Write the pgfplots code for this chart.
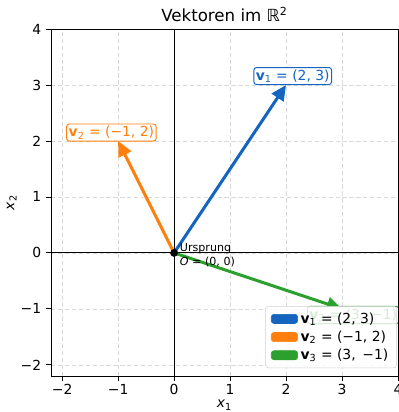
\documentclass[border=0pt]{standalone}
\usepackage{pgfplots}
\pgfplotsset{compat=1.18}
\usepackage{fontspec}
\setmainfont{DejaVu Sans}
\usetikzlibrary{arrows.meta}
\definecolor{cblue}{HTML}{1565C0}
\definecolor{corange}{HTML}{FF7F0E}
\definecolor{cgreen}{HTML}{2CA02C}
\newcommand{\vv}[1]{\textbf{v}\textsubscript{#1}}
\begin{document}
\begin{tikzpicture}
\begin{axis}[name=ax,
  scale only axis, width=250pt, height=250pt,
  xmin=-2.2, xmax=4, ymin=-2.2, ymax=4,
  xtick={-2,-1,0,1,2,3,4}, ytick={-2,-1,0,1,2,3,4},
  xticklabels={−2,−1,0,1,2,3,4}, yticklabels={−2,−1,0,1,2,3,4},
  tick align=outside, tick pos=left,
  major tick length=3.5pt,
  tick style={black, line width=0.6pt},
  tick label style={font=\fontsize{10}{12}\selectfont},
  xticklabel style={yshift=1pt},
  axis line style={line width=0.6pt},
  grid=major,
  major grid style={gray!30, line width=0.5pt, dash pattern=on 3pt off 2pt},
  title={Vektoren im ℝ\textsuperscript{2}},
  title style={font=\fontsize{12}{14}\selectfont, at={(0.5,1)}, anchor=south, yshift=-4pt, inner sep=3pt},
  xlabel={\textit{x}\textsubscript{1}},
  ylabel={\textit{x}\textsubscript{2}},
  xlabel shift=-3pt,
  ylabel shift=-4pt,
  label style={font=\fontsize{10}{12}\selectfont},
  legend style={at={(0.997,0.023)}, anchor=south east, draw=gray!35, fill=white, fill opacity=0.8, text opacity=1, draw opacity=1, rounded corners=2pt, font=\fontsize{10}{12}\selectfont, row sep=0pt, inner xsep=4pt, inner ysep=2.5pt},
  legend cell align=left,
]
% axes through origin
\addplot[black, line width=0.8pt, forget plot] coordinates {(-2.2,0) (4,0)};
\addplot[black, line width=0.8pt, forget plot] coordinates {(0,-2.2) (0,4)};
% vectors
\addplot[cblue, line width=2.2pt, -{Triangle[length=11pt,width=10pt]}, forget plot] coordinates {(0,0) (2,3)};
\addplot[corange, line width=2.2pt, -{Triangle[length=11pt,width=10pt]}, forget plot] coordinates {(0,0) (-1,2)};
\addplot[cgreen, line width=2.2pt, -{Triangle[length=11pt,width=10pt]}, forget plot] coordinates {(0,0) (3,-1)};
% origin
\addplot[only marks, mark=*, mark size=2.6pt, black, forget plot] coordinates {(0,0)};
\node[anchor=west, align=left, inner sep=0pt, font=\fontsize{8}{9.5}\selectfont] at (axis cs:0.1,-0.04) {Ursprung\\\textit{O} = (0, 0)};
% labels
\node[draw=cblue, text=cblue, fill=white, rounded corners=2pt, inner sep=1.5pt, line width=0.7pt, font=\fontsize{10}{12}\selectfont] at (axis cs:2.12,3.16) {\vv{1} = (2, 3)};
\node[draw=corange, text=corange, fill=white, rounded corners=2pt, inner sep=1.5pt, line width=0.7pt, font=\fontsize{10}{12}\selectfont] at (axis cs:-1.12,2.15) {\vv{2} = (−1, 2)};
\node[draw=cgreen, text=cgreen, fill=white, rounded corners=2pt, inner sep=1.5pt, line width=0.7pt, font=\fontsize{10}{12}\selectfont] at (axis cs:3.2,-1.11) {\vv{3} = (3, \,−1)};
% legend
\addlegendimage{legend image code/.code={\fill[cblue, fill opacity=1] (0pt,-3.3pt) rectangle (19pt,3.3pt);}}
\addlegendentry{\vv{1} = (2, 3)}
\addlegendimage{legend image code/.code={\fill[corange, fill opacity=1] (0pt,-3.3pt) rectangle (19pt,3.3pt);}}
\addlegendentry{\vv{2} = (−1, 2)}
\addlegendimage{legend image code/.code={\fill[cgreen, fill opacity=1] (0pt,-3.3pt) rectangle (19pt,3.3pt);}}
\addlegendentry{\vv{3} = (3, \,−1)}
\end{axis}
\pgfresetboundingbox
\path ([shift={(-36.7pt,-25.9pt)}]ax.south west) rectangle ([shift={(0.7pt,20.9pt)}]ax.north east);
\end{tikzpicture}
\end{document}
